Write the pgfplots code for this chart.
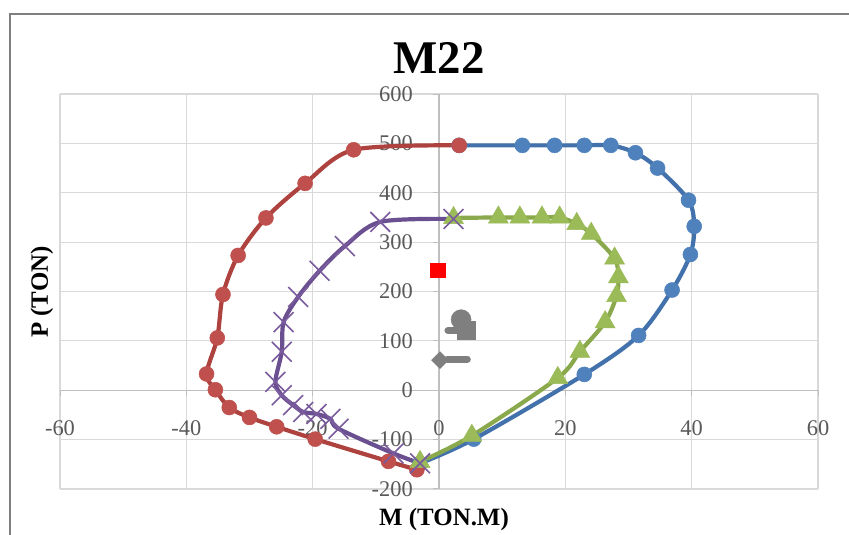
\documentclass[border=0pt]{standalone}
\usepackage{pgfplots}
\pgfplotsset{compat=1.18}
\usepackage{fontspec}
\setmainfont{Liberation Serif}
\definecolor{bluem}{HTML}{4F81BD}
\definecolor{bluel}{HTML}{4271AB}
\definecolor{redm}{HTML}{C0504D}
\definecolor{redl}{HTML}{AD423F}
\definecolor{greenm}{HTML}{9BBB59}
\definecolor{greenl}{HTML}{8AA84C}
\definecolor{purplem}{HTML}{7A5C9E}
\definecolor{purplel}{HTML}{6A4F91}
\definecolor{grayd}{HTML}{7F7F7F}
\definecolor{gridc}{HTML}{D9D9D9}
\definecolor{axc}{HTML}{BFBFBF}
\definecolor{tickc}{HTML}{595959}
\begin{document}
\begin{tikzpicture}
\useasboundingbox (0,0) rectangle (849bp,535bp);
\fill[white] (0,0) rectangle (849bp,535bp);
\draw[grayd, line width=1.5bp] (10bp,-5bp) -- (10bp,521bp) -- (860bp,521bp);
\begin{axis}[
  at={(60bp,46bp)}, anchor=south west,
  scale only axis, width=758bp, height=395bp,
  xmin=-60, xmax=60, ymin=-200, ymax=600,
  xtick={-60,-40,...,60}, ytick={-200,-100,...,600},
  axis lines=middle,
  axis line style={-, axc, line width=1.2bp},
  hide obscured x ticks=false, hide obscured y ticks=false,
  grid=major,
  major grid style={gridc, line width=1.2bp},
  tick style={axc, line width=1bp},
  major tick length=6bp,
  tick align=outside,
  /pgf/number format/assume math mode=true,
  ticklabel style={font=\fontsize{22.5}{22.5}\selectfont, text=tickc},
  xticklabel style={anchor=center, yshift=-32bp},
  yticklabel style={anchor=east, inner sep=0pt, xshift=-20bp},
  clip=false,
]
\addplot[bluel, line width=4.2bp, smooth, tension=0.5, mark=*, mark size=7.5bp,
  mark options={fill=bluem, draw=bluem, line width=0.5bp}] coordinates {
(3.2,496) (13.2,496) (18.3,496) (23.0,496) (27.2,496) (31.1,481) (34.6,450)
(39.5,385) (40.4,332) (39.8,275) (36.9,203) (31.6,111) (23.0,32) (5.5,-99) (-3.0,-148)};
\addplot[redl, line width=4.2bp, smooth, tension=0.5, mark=*, mark size=7.5bp,
  mark options={fill=redm, draw=redm, line width=0.5bp}] coordinates {
(3.2,496) (-13.5,487) (-21.2,419) (-27.4,349) (-31.8,273) (-34.2,194) (-35.1,106)
(-36.8,33) (-35.4,1) (-33.2,-35) (-30.0,-55) (-25.7,-74) (-19.6,-99) (-8.0,-144) (-3.5,-161)};
\addplot[greenl, line width=4.2bp, smooth, tension=0.5, mark=triangle*, mark size=11.5bp,
  mark options={fill=greenm, draw=greenm, line width=0.5bp}] coordinates {
(2.3,349) (9.4,350) (12.8,350) (16.3,350) (19.1,350) (21.8,337) (24.1,317)
(27.8,267) (28.4,229) (28.1,191) (26.3,138) (22.3,78) (18.8,25) (5.2,-92) (-3.0,-145)};
\addplot[purplel, line width=4.2bp, smooth, tension=0.5, mark=x, mark size=14bp,
  mark options={draw=purplem, line width=1.6bp}] coordinates {
(2.3,347) (-9.3,341) (-14.9,292) (-18.9,242) (-22.3,189) (-24.6,138) (-24.9,78)
(-25.9,17) (-24.9,-10) (-23.1,-30) (-21.5,-44) (-19.4,-48) (-17.2,-58) (-15.9,-78)
(-7.2,-128) (-3.0,-148)};
\addplot[only marks, mark=square*, mark size=7.2bp, mark options={fill=red, draw=red}]
  coordinates {(-0.2,243)};
\addplot[only marks, mark=*, mark size=10bp, mark options={fill=grayd, draw=grayd}]
  coordinates {(3.5,143)};
\addplot[only marks, mark=square*, mark size=9bp, mark options={fill=grayd, draw=grayd}]
  coordinates {(4.3,121)};
\addplot[only marks, mark=square*, mark size=6bp, mark options={fill=grayd, draw=grayd, rotate=45}]
  coordinates {(0.15,61)};
\addplot[only marks, mark=-, mark size=10bp, mark options={draw=grayd, line width=7bp, line cap=round}]
  coordinates {(3.0,121) (2.9,63)};
\end{axis}
\node[font=\fontsize{47}{47}\selectfont\bfseries] at (439bp,477bp) {M22};
\node[font=\fontsize{25}{25}\selectfont\bfseries, rotate=90] at (42bp,243bp) {P (TON)};
\node[font=\fontsize{25}{25}\selectfont\bfseries] at (444bp,15bp) {M (TON.M)};
\end{tikzpicture}
\end{document}
